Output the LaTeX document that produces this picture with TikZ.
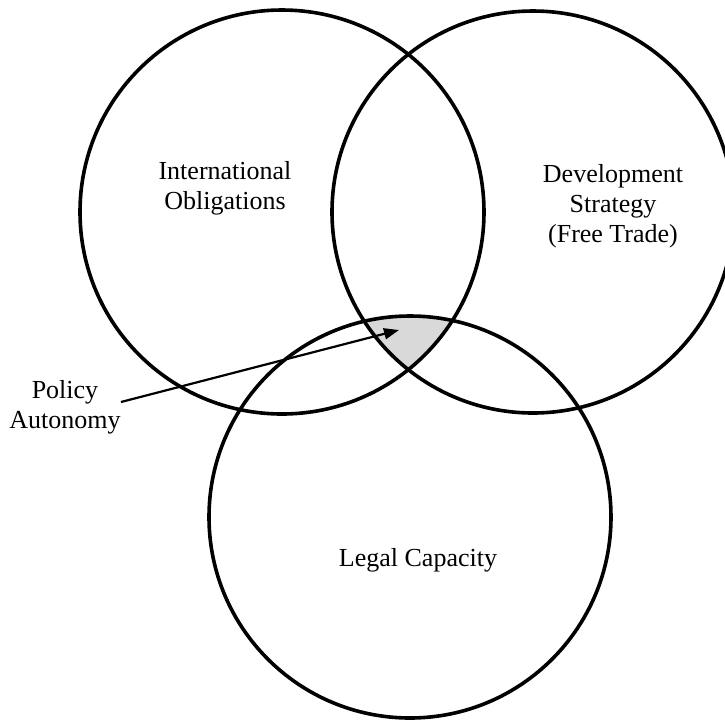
\documentclass[tikz,border=0pt]{standalone}
\usepackage{fontspec}
\setmainfont{Liberation Serif}
\usetikzlibrary{arrows.meta}

\tikzset{
  ring/.style={line width=1.8pt},
  lbl/.style={align=center, font=\fontsize{13}{15}\selectfont, inner sep=0pt}
}

\begin{document}
\begin{tikzpicture}[x=0.5pt,y=-0.5pt]
        \useasboundingbox (0,0) rectangle (725,720);
        % Centres
        \coordinate (obl) at (282,212);
        \coordinate (dev) at (533,212);
        \coordinate (cap) at (410,517);
        % Shared area
        \begin{scope}
            \clip (obl) circle[radius=101pt];
            \clip (dev) circle[radius=100.5pt];
            \fill[black!15] (cap) circle[radius=100.5pt];
        \end{scope}
        % Circles
        \draw[ring] (obl) circle[radius=101pt];
        \draw[ring] (dev) circle[radius=100.5pt];
        \draw[ring] (cap) circle[radius=100.5pt];
        % Labels
        \node[lbl] (io) at (225,188) {International\\Obligations};
        \node[lbl] (ds) at (613,206) {Development\\Strategy\\(Free Trade)};
        \node[lbl] (lc) at (418,560) {Legal Capacity};
        \node[lbl] (pa) at (65,407) {Policy\\Autonomy};
        % Arrow
        \coordinate (tail) at (121,402);
        \coordinate (tip) at (399,330);
        \draw[line width=1.1pt,-{Triangle[length=7.5pt,width=5.5pt]}] (tail) -- (tip);
\end{tikzpicture}
\end{document}
